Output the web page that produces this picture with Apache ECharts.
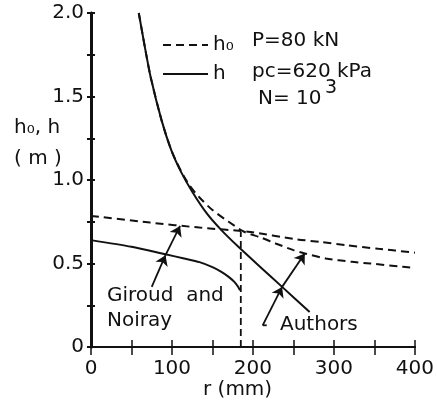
<!DOCTYPE html>
<html>
<head>
<meta charset="utf-8">
<script src="https://cdn.jsdelivr.net/npm/echarts@6/dist/echarts.min.js"></script>
<style>
  html, body { margin: 0; padding: 0; background: #fff; }
  #main { width: 437px; height: 404px; }
</style>
</head>
<body>
<div id="main"></div>
<script>
// r (mm) vs h0, h (m)
const authorsH = [[59, 2.0], [66, 1.81], [73.5, 1.62], [87, 1.36], [99, 1.18], [111, 1.05], [125, 0.93],
  [143, 0.80], [161, 0.70], [182, 0.60], [210, 0.475], [236, 0.36], [270, 0.21]];
const authorsH0 = [[59, 2.0], [66, 1.81], [73.5, 1.62], [87, 1.36], [99, 1.18], [111, 1.055],
  [122, 0.965], [134, 0.895], [150, 0.82], [170, 0.75], [189, 0.69], [210, 0.655], [228, 0.62],
  [250, 0.58], [264, 0.56], [290, 0.53], [322, 0.51], [345, 0.50], [385, 0.48], [400, 0.475]];
const giroudH0 = [[0, 0.785], [73, 0.745], [134, 0.715], [194, 0.69], [254, 0.645], [285, 0.628],
  [315, 0.61], [355, 0.588], [400, 0.565]];
const giroudH = [[0, 0.64], [50, 0.60], [92, 0.555], [115, 0.53], [134, 0.508], [150, 0.478],
  [161, 0.45], [170, 0.42], [177, 0.39], [181, 0.365], [184, 0.34]];
const limitR = [[185, 0], [185, 0.69]];

// arrows of the two notes
const giroudArrows = [[[75, 0.36], [92, 0.55]], [[92, 0.55], [110, 0.725]]];
const authorsArrows = [[[212, 0.13], [236, 0.36]], [[236, 0.36], [264, 0.56]]];
const authorsHook = [[212, 0.13], [217, 0.13]];

const xTicks = [0, 100, 200, 300, 400];
const yTicks = [0, 0.5, 1.0, 1.5, 2.0];

const FONT = 'DejaVu Sans';
const INK = '#111';

const chart = echarts.init(document.getElementById('main'));

const dashed = { color: INK, width: 2, type: [8, 5] };
const solid = { color: INK, width: 2 };

function lineSeries(name, data, style) {
  return {
    name: name, type: 'line', data: data, symbol: 'none', smooth: 0.25,
    lineStyle: style, itemStyle: { color: INK }, silent: true, z: 3
  };
}

function arrowSeries(segs) {
  return {
    type: 'lines', coordinateSystem: 'cartesian2d', silent: true, z: 4,
    symbol: ['none', 'arrow'], symbolSize: [7, 10],
    lineStyle: { color: INK, width: 1.8, opacity: 1 },
    data: segs.map(function (s) { return { coords: s }; })
  };
}

const option = {
  backgroundColor: '#fff',
  animation: false,
  textStyle: { fontFamily: FONT, color: INK },
  grid: { left: 91, right: 14, top: 13, bottom: 57 },
  legend: {
    data: ['h₀', 'h'],
    orient: 'vertical', left: 157, top: 30,
    itemWidth: 45, itemHeight: 14, itemGap: 9,
    itemStyle: { opacity: 0 },
    textStyle: { fontFamily: FONT, fontSize: 20, color: INK },
    selectedMode: false
  },
  xAxis: [{
    type: 'value', min: 0, max: 400, interval: 50, position: 'bottom',
    axisLine: { lineStyle: { color: INK, width: 2 } },
    axisTick: { inside: true, length: 7, lineStyle: { color: INK, width: 1.5 } },
    axisLabel: {
      fontFamily: FONT, fontSize: 20, color: INK, margin: 12,
      formatter: function (v) { return xTicks.indexOf(v) >= 0 ? String(v) : ''; }
    },
    splitLine: { show: false }
  }, {
    type: 'value', min: 0, max: 400, interval: 50, position: 'top',
    axisLine: { lineStyle: { color: INK, width: 2 } },
    axisTick: { inside: true, length: 8, lineStyle: { color: INK, width: 1.5 } },
    axisLabel: { show: false },
    splitLine: { show: false }
  }],
  yAxis: [{
    type: 'value', min: 0, max: 2, interval: 0.25, position: 'left',
    axisLine: { lineStyle: { color: INK, width: 3 } },
    axisTick: { inside: true, length: 4, lineStyle: { color: INK, width: 2 } },
    axisLabel: {
      fontFamily: FONT, fontSize: 20, color: INK, margin: 7,
      formatter: function (v) {
        if (v === 0) return '0';
        return yTicks.indexOf(v) >= 0 ? v.toFixed(1) : '';
      }
    },
    splitLine: { show: false }
  }, {
    type: 'value', min: 0, max: 2, interval: 0.25, position: 'right',
    axisLine: { lineStyle: { color: INK, width: 2.5 } },
    axisTick: { inside: true, length: 4, lineStyle: { color: INK, width: 2 } },
    axisLabel: { show: false },
    splitLine: { show: false }
  }],
  series: [
    lineSeries('h₀', giroudH0, dashed),
    lineSeries('h₀', authorsH0, dashed),
    lineSeries('h', authorsH, solid),
    lineSeries('h', giroudH, solid),
    {
      type: 'line', data: limitR, symbol: 'none', silent: true,
      lineStyle: { color: INK, width: 1.8, type: [7, 4] }
    },
    arrowSeries(giroudArrows),
    arrowSeries(authorsArrows),
    {
      type: 'line', data: authorsHook, symbol: 'none', silent: true,
      lineStyle: { color: INK, width: 1.8 }
    }
  ],
  graphic: [
    { type: 'text', left: 252, top: 31, style: { text: 'P=80 kN', font: '20px "DejaVu Sans"', fill: INK } },
    { type: 'text', left: 252, top: 62, style: { text: 'pc=620 kPa', font: '20px "DejaVu Sans"', fill: INK } },
    { type: 'text', left: 258, top: 89, style: { text: 'N= 10', font: '20px "DejaVu Sans"', fill: INK } },
    { type: 'text', left: 325, top: 79, style: { text: '3', font: '19px "DejaVu Sans"', fill: INK } },
    { type: 'text', left: 14, top: 118, style: { text: 'h₀, h', font: '20px "DejaVu Sans"', fill: INK } },
    { type: 'text', left: 14, top: 149, style: { text: '( m )', font: '20px "DejaVu Sans"', fill: INK } },
    { type: 'text', left: 203, top: 380, style: { text: 'r (mm)', font: '20px "DejaVu Sans"', fill: INK } },
    { type: 'text', left: 107, top: 286, style: { text: 'Giroud  and', font: '20px "DejaVu Sans"', fill: INK } },
    { type: 'text', left: 107, top: 311, style: { text: 'Noiray', font: '20px "DejaVu Sans"', fill: INK } },
    { type: 'text', left: 280, top: 315, style: { text: 'Authors', font: '20px "DejaVu Sans"', fill: INK } }
  ]
};

chart.setOption(option);
</script>
</body>
</html>
